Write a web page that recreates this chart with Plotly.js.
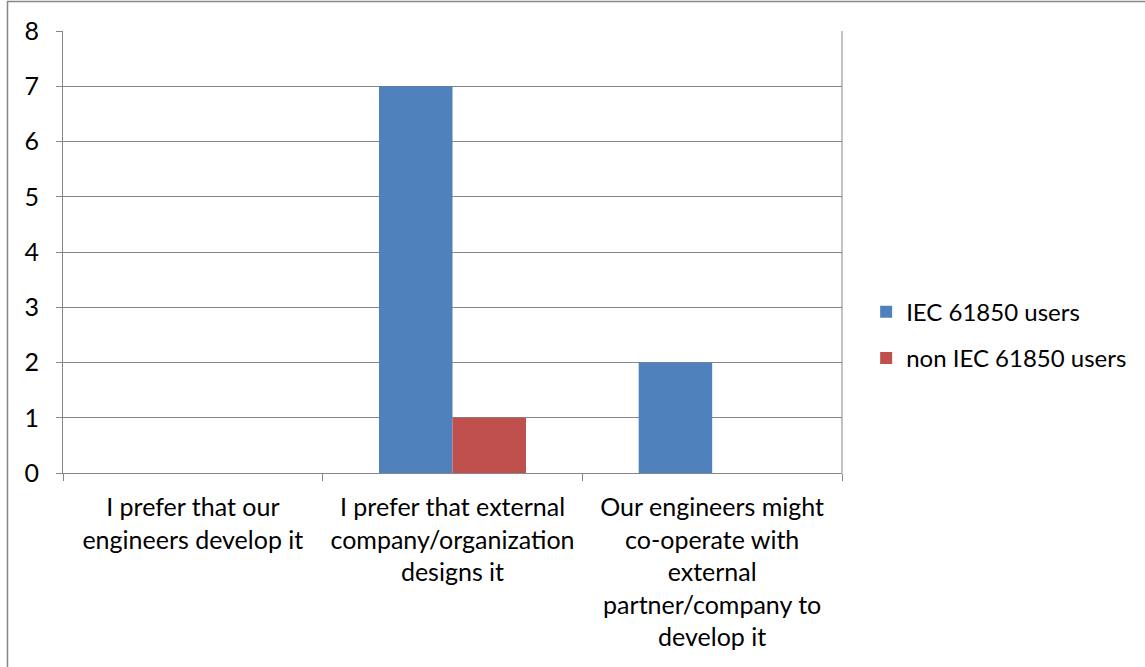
<!DOCTYPE html>
<html>
<head>
<meta charset="utf-8">
<script src="https://cdn.plot.ly/plotly-3.0.1.min.js"></script>
<style>
  html, body { margin: 0; padding: 0; background: #ffffff; }
  #chart { width: 1145px; height: 667px; }
</style>
</head>
<body>
<div id="chart"></div>
<script>
// Survey answers: who should develop the tool
const categories = [
  "I prefer that our<br>engineers develop it",
  "I prefer that external<br>company/organization<br>designs it",
  "Our engineers might<br>co-operate with<br>external<br>partner/company to<br>develop it"
];
const seriesNames = ["IEC 61850 users", "non IEC 61850 users"];
const iecUsers = [0, 7, 2];
const nonIecUsers = [0, 1, 0];
const yTicks = [0, 1, 2, 3, 4, 5, 6, 7, 8];

const gridColor = "#868686";
const fontFamily = "Lato, 'Open Sans', sans-serif";

const traces = [
  {
    type: "bar",
    name: seriesNames[0],
    x: categories,
    y: iecUsers,
    marker: { color: "#4F81BD" },
    legendgroup: "a",
    hoverinfo: "y"
  },
  {
    type: "bar",
    name: seriesNames[1],
    x: categories,
    y: nonIecUsers,
    marker: { color: "#C0504D" },
    legendgroup: "b",
    hoverinfo: "y"
  }
];

// Plot area spans 779 x 442 px; the outer frame is placed in paper units around it
const plotW = 779, plotH = 442, ml = 63, mt = 31;
const frame = {
  x0: (7.5 - ml) / plotW,
  x1: (1160 - ml) / plotW,
  y0: -(690 - mt - plotH) / plotH,
  y1: 1 + (mt - 1.5) / plotH
};

const layout = {
  width: 1145,
  height: 667,
  margin: { l: 63, r: 303, t: 31, b: 194, pad: 0, autoexpand: false },
  paper_bgcolor: "#ffffff",
  plot_bgcolor: "#ffffff",
  font: { family: fontFamily, size: 25, color: "#000000" },
  barmode: "group",
  bargap: 0.434,
  bargroupgap: 0,
  showlegend: true,
  legend: {
    x: 1.031,
    xanchor: "left",
    y: 0.312,
    yanchor: "middle",
    traceorder: "grouped",
    tracegroupgap: 12,
    font: { family: fontFamily, size: 24, color: "#000000" },
    bgcolor: "rgba(0,0,0,0)"
  },
  xaxis: {
    type: "category",
    showgrid: false,
    showline: true,
    linecolor: gridColor,
    linewidth: 1,
    ticks: "outside",
    tickson: "boundaries",
    ticklen: 7,
    tickcolor: gridColor,
    tickwidth: 1,
    tickangle: 0,
    ticklabelstandoff: 12,
    automargin: false,
    fixedrange: true
  },
  yaxis: {
    range: [0, 8],
    tickvals: yTicks,
    ticktext: yTicks.map(String),
    showgrid: true,
    gridcolor: gridColor,
    gridwidth: 1,
    zeroline: false,
    showline: true,
    linecolor: gridColor,
    linewidth: 1,
    ticks: "outside",
    ticklen: 6,
    tickcolor: gridColor,
    tickwidth: 1,
    ticklabelstandoff: 12,
    automargin: false,
    fixedrange: true
  },
  shapes: [
    {
      type: "rect",
      xref: "paper",
      yref: "paper",
      x0: frame.x0,
      x1: frame.x1,
      y0: frame.y0,
      y1: frame.y1,
      line: { color: "#868686", width: 1.5 },
      fillcolor: "rgba(0,0,0,0)",
      layer: "below"
    },
    {
      type: "line",
      xref: "paper",
      yref: "paper",
      x0: 1,
      x1: 1,
      y0: 0,
      y1: 1,
      line: { color: gridColor, width: 1 }
    }
  ]
};

Plotly.newPlot("chart", traces, layout, { displayModeBar: false, staticPlot: true });
</script>
</body>
</html>
